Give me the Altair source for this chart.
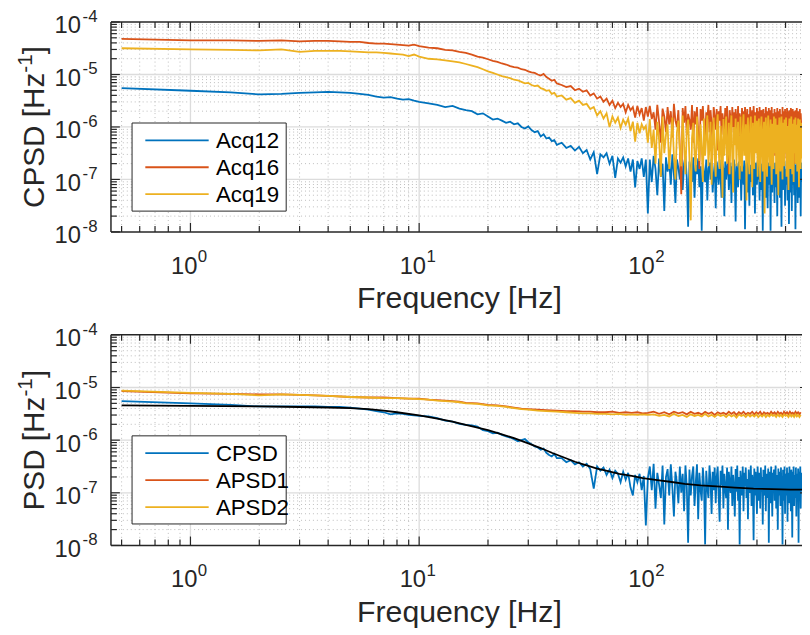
import altair as alt
import pandas as pd

# ---------------- data (log10 of spectral density) ----------------
F_LOW = [0.5, 1, 1.5, 2, 2.5, 3, 3.5, 4, 4.5, 5, 5.5, 6, 6.5, 7, 7.5, 8, 8.5, 9, 9.5, 10]
F_MID = list(range(11, 41))
F_MID2 = list(range(42, 101, 2))
F_HIGH = list(range(102, 471, 2))
FREQ = F_LOW + F_MID + F_MID2 + F_HIGH

ACQ12_LM = [
    -5.26, -5.31, -5.34, -5.38, -5.37, -5.35, -5.34, -5.33, -5.34, -5.35,
    -5.37, -5.39, -5.42, -5.44, -5.43, -5.46, -5.48, -5.47, -5.50, -5.52,
    -5.55, -5.58, -5.62, -5.60, -5.65, -5.68, -5.70, -5.76, -5.74, -5.80,
    -5.86, -5.84, -5.88, -5.92, -5.90, -5.95, -5.93, -6.00, -6.03, -5.99,
    -6.06, -6.10, -6.08, -6.18, -6.14, -6.22, -6.20, -6.27, -6.25, -6.34,
    -6.30, -6.40, -6.36, -6.45, -6.38, -6.50, -6.44, -6.62, -6.48, -6.90,
    -6.52, -6.58, -6.50, -6.70, -6.55, -6.97, -6.60, -6.68, -6.58, -6.75,
    -6.60, -6.85, -6.62, -7.15, -6.65, -6.80, -6.60, -6.95, -6.62, -7.65,
]
ACQ12_HI = [
    -6.62, -7.05, -6.55, -6.80, -7.30, -6.60, -6.95, -6.70, -7.60, -6.58,
    -6.85, -6.65, -7.10, -6.52, -6.90, -7.45, -6.62, -6.78, -7.00, -6.60,
    -7.20, -6.70, -6.55, -6.98, -7.90, -6.66, -6.82, -7.05, -6.58, -7.35,
    -6.72, -6.90, -6.60, -7.15, -6.75, -7.98, -6.64, -6.88, -7.05, -6.62,
    -7.40, -6.80, -6.68, -7.00, -6.60, -7.25, -6.92, -6.70, -7.55, -6.66,
    -6.85, -7.10, -6.62, -6.95, -7.35, -6.70, -6.80, -7.70, -6.66, -7.00,
    -6.78, -6.64, -7.20, -6.90, -6.68, -7.45, -6.75, -7.05, -6.62, -6.98,
    -7.80, -6.70, -6.86, -7.15, -6.66, -7.00, -6.74, -7.40, -6.68, -6.90,
    -7.10, -6.64, -7.95, -6.80, -6.70, -7.25, -6.66, -6.95, -7.50, -6.72,
    -6.85, -7.05, -6.62, -7.30, -6.78, -6.70, -7.65, -6.68, -6.92, -7.10,
    -6.66, -7.00, -6.75, -7.40, -6.64, -6.88, -7.20, -6.70, -7.98, -6.76,
    -6.90, -7.05, -6.66, -7.35, -6.72, -6.95, -7.55, -6.68, -6.84, -7.10,
    -6.70, -7.98, -6.74, -6.90, -7.25, -6.66, -7.00, -6.80, -7.45, -6.68,
    -6.94, -7.15, -6.72, -7.70, -6.66, -6.86, -7.05, -6.78, -7.35, -6.70,
    -6.98, -7.90, -6.68, -6.90, -7.20, -6.74, -7.00, -6.66, -7.50, -6.80,
    -6.92, -7.10, -6.70, -7.40, -6.76, -6.88, -7.85, -6.68, -7.00, -7.25,
    -6.72, -6.95, -7.60, -6.66, -6.84, -7.10, -6.74, -7.30, -6.68, -6.98,
    -7.95, -6.72, -6.90, -7.15, -6.66, -7.45, -6.80, -7.00, -6.70, -7.35,
    -6.76, -6.92, -7.70, -6.68, -7.05,
]

ACQ16_LM = [
    -4.32, -4.35, -4.35, -4.36, -4.35, -4.37, -4.36, -4.36, -4.37, -4.38,
    -4.38, -4.40, -4.41, -4.41, -4.42, -4.43, -4.44, -4.45, -4.43, -4.46,
    -4.49, -4.50, -4.53, -4.54, -4.57, -4.59, -4.62, -4.66, -4.68, -4.71,
    -4.74, -4.76, -4.79, -4.81, -4.84, -4.86, -4.87, -4.90, -4.91, -4.94,
    -4.96, -4.97, -5.00, -5.02, -4.99, -5.05, -5.08, -5.12, -5.10, -5.17,
    -5.20, -5.24, -5.22, -5.30, -5.27, -5.33, -5.30, -5.40, -5.36, -5.46,
    -5.42, -5.52, -5.46, -5.58, -5.50, -5.64, -5.54, -5.62, -5.56, -5.72,
    -5.58, -5.68, -5.62, -5.82, -5.60, -5.76, -5.64, -5.88, -5.62, -5.80,
]
ACQ16_HI = [
    -5.60, -5.85, -5.72, -6.05, -5.58, -5.90, -6.30, -5.65, -5.80, -6.10,
    -5.62, -5.95, -5.70, -6.20, -5.56, -5.88, -6.00, -5.68, -6.40, -7.28,
    -5.64, -5.92, -5.60, -6.15, -5.75, -5.86, -6.05, -5.58, -6.30, -5.70,
    -5.95, -5.62, -6.10, -6.80, -5.66, -5.88, -5.60, -6.00, -6.25, -5.72,
    -5.84, -5.58, -6.10, -5.68, -5.95, -6.35, -5.62, -5.80, -6.05, -5.66,
    -6.45, -5.70, -5.88, -5.60, -6.15, -5.74, -5.92, -6.05, -5.64, -6.25,
    -5.60, -5.95, -6.90, -5.68, -5.85, -6.10, -5.62, -6.00, -5.72, -6.30,
    -5.66, -5.90, -6.05, -5.60, -6.20, -5.74, -5.86, -6.40, -5.64, -5.98,
    -5.70, -6.12, -5.62, -5.88, -6.30, -5.66, -6.00, -5.76, -6.50, -5.62,
    -5.92, -6.05, -5.68, -6.22, -5.60, -5.86, -6.10, -5.72, -6.00, -5.64,
    -6.35, -5.70, -6.75, -5.62, -5.95, -6.10, -5.68, -5.88, -6.25, -5.66,
    -6.00, -5.74, -6.15, -5.62, -5.90, -6.40, -5.70, -6.05, -5.64, -6.20,
    -5.86, -5.68, -6.10, -5.62, -6.30, -5.74, -5.95, -6.05, -5.66, -6.55,
    -5.72, -5.90, -6.15, -5.64, -6.00, -5.70, -6.25, -5.88, -5.66, -6.40,
    -5.76, -5.96, -6.10, -5.62, -6.20, -5.70, -5.90, -6.60, -5.66, -6.05,
    -5.72, -6.30, -5.64, -5.92, -6.10, -5.70, -6.45, -5.68, -5.98, -6.20,
    -5.64, -6.05, -5.74, -6.35, -5.66, -5.90, -6.15, -5.70, -6.00, -6.70,
    -5.68, -5.94, -6.20, -5.64, -6.10, -5.72, -6.40, -5.70, -5.96, -6.05,
    -5.66, -6.25, -5.74, -5.92, -6.10,
]

ACQ19_LM = [
    -4.50, -4.52, -4.53, -4.54, -4.52, -4.57, -4.55, -4.55, -4.55, -4.56,
    -4.57, -4.58, -4.58, -4.59, -4.60, -4.61, -4.62, -4.65, -4.62, -4.66,
    -4.70, -4.71, -4.73, -4.75, -4.77, -4.80, -4.83, -4.86, -4.90, -4.94,
    -4.97, -5.00, -5.03, -5.05, -5.07, -5.10, -5.11, -5.14, -5.17, -5.16,
    -5.20, -5.22, -5.21, -5.26, -5.28, -5.31, -5.30, -5.37, -5.35, -5.42,
    -5.40, -5.48, -5.45, -5.54, -5.50, -5.58, -5.56, -5.66, -5.62, -5.78,
    -5.70, -5.84, -5.74, -6.00, -5.80, -5.92, -5.82, -6.02, -5.86, -5.96,
    -5.84, -6.08, -5.90, -6.28, -5.92, -6.12, -5.95, -6.04, -5.98, -6.30,
]
ACQ19_HI = [
    -5.85, -6.40, -6.05, -6.70, -5.90, -6.25, -6.95, -5.80, -6.50, -6.15,
    -5.95, -6.80, -6.30, -5.82, -6.55, -7.00, -6.10, -5.88, -6.45, -6.75,
    -5.78, -6.35, -6.90, -6.05, -5.86, -6.60, -7.78, -6.20, -5.92, -6.50,
    -6.85, -5.80, -6.30, -6.65, -5.95, -6.40, -7.05, -5.84, -6.55, -6.20,
    -5.78, -6.75, -6.35, -5.90, -7.10, -6.25, -5.82, -6.60, -6.95, -6.05,
    -5.76, -6.45, -6.80, -5.98, -6.30, -7.35, -5.85, -6.55, -6.15, -5.80,
    -6.70, -6.40, -5.92, -6.90, -6.10, -5.78, -6.60, -7.25, -6.00, -6.35,
    -5.84, -6.75, -6.20, -5.90, -6.50, -7.00, -5.80, -6.40, -6.85, -6.05,
    -5.76, -6.55, -6.30, -5.95, -7.40, -6.15, -5.82, -6.65, -6.90, -6.00,
    -5.80, -6.45, -7.15, -5.92, -6.35, -6.80, -5.78, -6.50, -6.20, -5.88,
    -6.95, -6.30, -5.84, -6.60, -7.05, -6.00, -5.80, -6.45, -6.85, -6.10,
    -5.90, -7.65, -6.35, -5.82, -6.55, -6.95, -6.05, -5.78, -6.40, -6.75,
    -6.15, -5.86, -6.60, -7.10, -5.94, -6.30, -6.80, -5.80, -6.50, -6.20,
    -5.84, -6.90, -6.40, -5.96, -6.65, -7.30, -6.05, -5.82, -6.45, -6.85,
    -6.10, -5.80, -6.55, -7.00, -5.92, -6.35, -6.75, -5.86, -6.50, -6.20,
    -5.82, -6.95, -6.40, -5.98, -6.60, -7.20, -6.00, -5.84, -6.45, -6.80,
    -6.15, -5.80, -6.55, -6.90, -5.94, -6.35, -7.05, -5.86, -6.50, -6.25,
    -5.82, -6.70, -6.40, -5.96, -6.85, -6.10, -5.84, -6.55, -7.15, -6.00,
    -5.86, -6.45, -6.80, -5.92, -6.60,
]

CPSD_LM = [
    -5.26, -5.30, -5.33, -5.36, -5.36, -5.36, -5.36, -5.37, -5.37, -5.38,
    -5.40, -5.42, -5.45, -5.47, -5.51, -5.49, -5.50, -5.52, -5.53, -5.54,
    -5.55, -5.58, -5.63, -5.65, -5.69, -5.71, -5.72, -5.74, -5.81, -5.83,
    -5.87, -5.86, -5.90, -5.93, -5.95, -5.98, -6.02, -6.00, -5.98, -6.04,
    -6.08, -6.12, -6.14, -6.18, -6.16, -6.24, -6.28, -6.31, -6.26, -6.34,
    -6.34, -6.42, -6.38, -6.46, -6.42, -6.50, -6.45, -6.55, -6.92, -6.50,
    -6.58, -6.52, -6.66, -6.56, -6.72, -6.58, -6.64, -6.80, -6.60, -6.75,
    -6.62, -6.90, -7.05, -6.66, -6.80, -6.64, -6.95, -6.68, -7.62, -6.72,
]
CPSD_HI = [
    -6.50, -6.95, -6.45, -7.30, -6.62, -6.85, -7.10, -6.48, -7.60, -6.70,
    -6.55, -7.05, -6.46, -6.90, -7.45, -6.60, -6.80, -7.20, -6.50, -7.00,
    -6.64, -7.35, -6.48, -6.88, -7.95, -6.56, -7.05, -6.68, -6.50, -7.25,
    -6.80, -6.46, -7.50, -6.62, -6.95, -7.15, -6.52, -6.85, -7.98, -6.58,
    -6.90, -7.10, -6.48, -6.78, -7.40, -6.60, -6.95, -6.52, -7.20, -6.70,
    -6.50, -7.05, -7.55, -6.58, -6.86, -6.48, -7.30, -6.64, -6.92, -7.10,
    -6.52, -7.70, -6.60, -6.84, -7.00, -6.50, -7.25, -6.66, -6.90, -7.45,
    -6.55, -6.98, -6.48, -7.15, -6.70, -7.98, -6.58, -6.86, -7.05, -6.50,
    -7.35, -6.62, -6.88, -6.52, -7.10, -6.74, -7.50, -6.56, -6.92, -7.00,
    -6.48, -7.25, -6.66, -6.85, -7.90, -6.54, -7.05, -6.60, -6.95, -7.40,
    -6.50, -6.88, -7.15, -6.62, -7.30, -6.52, -6.98, -6.70, -7.60, -6.56,
    -6.90, -7.05, -6.48, -7.35, -6.64, -6.86, -7.10, -6.54, -7.95, -6.60,
    -6.92, -7.20, -6.50, -6.84, -7.45, -6.62, -7.00, -6.56, -7.15, -6.70,
    -6.48, -7.30, -6.66, -6.90, -7.70, -6.54, -7.05, -6.60, -6.88, -7.25,
    -6.52, -7.00, -6.68, -7.98, -6.56, -6.94, -7.15, -6.50, -7.40, -6.64,
    -6.86, -7.05, -6.52, -7.55, -6.62, -6.90, -7.20, -6.50, -7.00, -6.70,
    -7.35, -6.56, -6.88, -7.85, -6.60, -7.05, -6.50, -7.25, -6.66, -6.92,
    -7.10, -6.52, -7.45, -6.64, -6.86, -7.00, -6.54, -7.95, -6.60, -7.15,
    -6.70, -6.50, -7.30, -6.62, -6.95,
]

ACQ12 = ACQ12_LM + ACQ12_HI
ACQ16 = ACQ16_LM + ACQ16_HI
ACQ19 = ACQ19_LM + ACQ19_HI
CPSD = CPSD_LM + CPSD_HI

FA_LOW = [0.5, 1, 1.5, 2, 2.5, 3, 3.5, 4, 5, 6, 7, 8, 9, 10, 11, 12, 13, 14, 15, 16,
          18, 20, 22, 24, 26, 28, 30, 33, 36, 40, 44, 48, 52, 56, 60, 65, 70, 75, 80,
          85, 90, 95, 100]
FA_HIGH = list(range(106, 467, 6))
FREQ_A = FA_LOW + FA_HIGH

APSD1 = [
    -5.07, -5.11, -5.12, -5.13, -5.13, -5.14, -5.15, -5.16, -5.18, -5.19,
    -5.19, -5.20, -5.21, -5.21, -5.23, -5.24, -5.25, -5.26, -5.27, -5.29,
    -5.30, -5.33, -5.34, -5.36, -5.38, -5.40, -5.41, -5.42, -5.43, -5.44,
    -5.45, -5.45, -5.46, -5.46, -5.47, -5.47, -5.46, -5.48, -5.47, -5.48,
    -5.47, -5.49, -5.48,
    -5.46, -5.50, -5.47, -5.51, -5.46, -5.49, -5.47, -5.51, -5.46, -5.50,
    -5.48, -5.51, -5.46, -5.50, -5.47, -5.52, -5.47, -5.50, -5.48, -5.51,
    -5.46, -5.50, -5.47, -5.52, -5.47, -5.50, -5.46, -5.51, -5.48, -5.50,
    -5.46, -5.51, -5.47, -5.50, -5.46, -5.52, -5.47, -5.50, -5.48, -5.51,
    -5.46, -5.50, -5.47, -5.51, -5.46, -5.50, -5.48, -5.52, -5.46, -5.50,
    -5.47, -5.51, -5.46, -5.50, -5.48, -5.51, -5.46, -5.50, -5.47, -5.51,
    -5.47,
]

APSD2 = [
    -5.06, -5.10, -5.12, -5.15, -5.13, -5.14, -5.15, -5.16, -5.18, -5.19,
    -5.20, -5.20, -5.21, -5.22, -5.23, -5.25, -5.26, -5.27, -5.28, -5.30,
    -5.31, -5.34, -5.35, -5.37, -5.39, -5.41, -5.42, -5.44, -5.45, -5.46,
    -5.47, -5.48, -5.49, -5.49, -5.50, -5.50, -5.51, -5.50, -5.52, -5.51,
    -5.52, -5.51, -5.52,
    -5.51, -5.54, -5.52, -5.55, -5.50, -5.54, -5.52, -5.56, -5.51, -5.54,
    -5.52, -5.55, -5.50, -5.55, -5.52, -5.56, -5.51, -5.54, -5.52, -5.56,
    -5.51, -5.55, -5.52, -5.57, -5.51, -5.54, -5.52, -5.56, -5.51, -5.55,
    -5.52, -5.55, -5.51, -5.56, -5.52, -5.55, -5.51, -5.56, -5.52, -5.55,
    -5.51, -5.54, -5.52, -5.56, -5.51, -5.55, -5.52, -5.56, -5.51, -5.54,
    -5.52, -5.56, -5.51, -5.55, -5.52, -5.56, -5.51, -5.55, -5.52, -5.56,
    -5.52,
]

FREQ_FIT = [0.5, 1, 2, 3, 4, 5, 6, 7, 8, 10, 12, 14, 16, 18, 20, 23, 26, 30, 34, 38,
            43, 48, 54, 60, 67, 75, 85, 95, 110, 125, 145, 170, 200, 240, 290, 350,
            420, 472]
FIT = [-5.34, -5.35, -5.36, -5.37, -5.38, -5.39, -5.41, -5.44, -5.47, -5.53,
       -5.59, -5.65, -5.71, -5.76, -5.81, -5.89, -5.96, -6.06, -6.15, -6.24,
       -6.33, -6.41, -6.48, -6.54, -6.59, -6.64, -6.68, -6.72, -6.76, -6.79,
       -6.83, -6.86, -6.88, -6.90, -6.92, -6.93, -6.94, -6.94]

for name, fr, vals in [("ACQ12", FREQ, ACQ12), ("ACQ16", FREQ, ACQ16), ("ACQ19", FREQ, ACQ19),
                       ("CPSD", FREQ, CPSD), ("APSD1", FREQ_A, APSD1), ("APSD2", FREQ_A, APSD2),
                       ("FIT", FREQ_FIT, FIT)]:
    assert len(fr) == len(vals), (name, len(fr), len(vals))

X_MAJOR = [1, 10, 100]
X_MAJOR_EXP = ["0", "1", "2"]
X_MINOR = [0.5, 0.6, 0.7, 0.8, 0.9, 2, 3, 4, 5, 6, 7, 8, 9,
           20, 30, 40, 50, 60, 70, 80, 90, 200, 300, 400]
Y_MAJOR = [1e-8, 1e-7, 1e-6, 1e-5, 1e-4]
Y_MAJOR_EXP = ["-8", "-7", "-6", "-5", "-4"]
Y_MINOR = [m * 10.0 ** e for e in (-8, -7, -6, -5) for m in range(2, 10)]

TOP_NAMES = ["Acq12", "Acq16", "Acq19"]
BOT_NAMES = ["CPSD", "APSD1", "APSD2"]
COLORS = ["#0072BD", "#D95319", "#EDB120"]

# ---------------- layout (view pixels; page = view + 8) ----------------
XL, XR = 104, 802
X_DOMAIN = [0.4492, 472.1]
PANELS = [dict(top=11, bot=223), dict(top=327, bot=539.7)]
FONT = "Liberation Sans"
AX = "#262626"


def xs():
    return alt.Scale(type="log", domain=X_DOMAIN, range=[XL, XR], nice=False)


def ys(p):
    return alt.Scale(type="log", domain=[1e-8, 1e-4], range=[p["bot"], p["top"]], nice=False)


def series(freqs, logs):
    return pd.DataFrame({"f": freqs, "v": [10.0 ** v for v in logs]})


def line(df, p, color, width=1.8):
    return alt.Chart(df).mark_line(color=color, strokeWidth=width).encode(
        x=alt.X("f:Q", scale=xs(), axis=None),
        y=alt.Y("v:Q", scale=ys(p), axis=None),
    )


def vrules(values, p, y1, y2, **kw):
    return alt.Chart(pd.DataFrame({"v": values})).mark_rule(**kw).encode(
        x=alt.X("v:Q", scale=xs(), axis=None), y=alt.value(y1), y2=alt.value(y2))


def hrules(values, p, x1, x2, **kw):
    return alt.Chart(pd.DataFrame({"v": values})).mark_rule(**kw).encode(
        y=alt.Y("v:Q", scale=ys(p), axis=None), x=alt.value(x1), x2=alt.value(x2))


def text_at(s, x, y, size, **kw):
    return alt.Chart(pd.DataFrame({"t": [s]})).mark_text(
        font=FONT, fontSize=size, color=kw.pop("color", AX), **kw).encode(
        text="t:N", x=alt.value(x), y=alt.value(y))


def panel(p, lines, names, ylabel_main):
    L = []
    t, b = p["top"], p["bot"]
    # grid
    L.append(vrules(X_MINOR, p, t, b, color="#BDBDBD", strokeWidth=1, strokeDash=[1, 3]))
    L.append(hrules(Y_MINOR, p, XL, XR, color="#BDBDBD", strokeWidth=1, strokeDash=[1, 3]))
    L.append(vrules(X_MAJOR, p, t, b, color="#DCDCDC", strokeWidth=1.3))
    L.append(hrules(Y_MAJOR[1:-1], p, XL, XR, color="#DCDCDC", strokeWidth=1.3))
    # data
    L.extend(lines)
    # spines
    L.append(alt.Chart(pd.DataFrame({"a": [0]})).mark_rule(color=AX, strokeWidth=1.5).encode(
        x=alt.value(XL), y=alt.value(t), y2=alt.value(b)))
    L.append(alt.Chart(pd.DataFrame({"a": [0]})).mark_rule(color=AX, strokeWidth=1.5).encode(
        x=alt.value(XL), x2=alt.value(XR), y=alt.value(t)))
    L.append(alt.Chart(pd.DataFrame({"a": [0]})).mark_rule(color=AX, strokeWidth=1.5).encode(
        x=alt.value(XL), x2=alt.value(XR), y=alt.value(b)))
    # ticks (inward)
    L.append(vrules(X_MAJOR, p, b, b - 9, color=AX, strokeWidth=1.2))
    L.append(vrules(X_MINOR, p, b, b - 6, color=AX, strokeWidth=1.2))
    L.append(vrules(X_MAJOR, p, t, t + 9, color=AX, strokeWidth=1.2))
    L.append(vrules(X_MINOR, p, t, t + 6, color=AX, strokeWidth=1.2))
    L.append(hrules(Y_MAJOR, p, XL, XL + 9, color=AX, strokeWidth=1.2))
    L.append(hrules(Y_MINOR, p, XL, XL + 6, color=AX, strokeWidth=1.2))
    L.append(hrules(Y_MAJOR[1:-1], p, XR - 2, XR, color=AX, strokeWidth=1.2))
    # x tick labels
    xl = pd.DataFrame({"v": X_MAJOR, "e": X_MAJOR_EXP})
    L.append(alt.Chart(xl).mark_text(font=FONT, fontSize=24, color=AX, align="right",
                                     baseline="alphabetic", dx=7).encode(
        x=alt.X("v:Q", scale=xs(), axis=None), y=alt.value(b + 42.3), text=alt.value("10")))
    L.append(alt.Chart(xl).mark_text(font=FONT, fontSize=17, color=AX, align="left",
                                     baseline="alphabetic", dx=7.5).encode(
        x=alt.X("v:Q", scale=xs(), axis=None), y=alt.value(b + 30.7), text="e:N"))
    # y tick labels
    yl = pd.DataFrame({"v": Y_MAJOR, "e": Y_MAJOR_EXP})
    L.append(alt.Chart(yl).mark_text(font=FONT, fontSize=24, color=AX, align="right",
                                     baseline="alphabetic", dy=11.5).encode(
        y=alt.Y("v:Q", scale=ys(p), axis=None), x=alt.value(73.7), text=alt.value("10")))
    L.append(alt.Chart(yl).mark_text(font=FONT, fontSize=17, color=AX, align="left",
                                     baseline="alphabetic", dy=0).encode(
        y=alt.Y("v:Q", scale=ys(p), axis=None), x=alt.value(75.3), text="e:N"))
    # x title
    L.append(text_at("Frequency [Hz]", 456, b + 77.3, 30.5, align="center", baseline="alphabetic"))
    # y title (rotated, with superscript)
    F = 30
    main_w = {"CPSD [Hz": 4.556, "PSD [Hz": 3.834}[ylabel_main] * F
    sup_w = 0.889 * 21
    total = main_w + sup_w + 0.278 * F
    cy = (t + b) / 2
    y0 = cy + total / 2
    bx = 36
    L.append(text_at(ylabel_main, bx, y0, F, align="left", baseline="alphabetic", angle=270))
    L.append(text_at("-1", bx - 12, y0 - main_w, 21, align="left", baseline="alphabetic", angle=270))
    L.append(text_at("]", bx, y0 - main_w - sup_w, F, align="left", baseline="alphabetic", angle=270))
    # legend
    ly0 = t + 102
    L.append(alt.Chart(pd.DataFrame({"a": [0]})).mark_rect(
        fill="white", stroke=AX, strokeWidth=1).encode(
        x=alt.value(125.3), x2=alt.value(281), y=alt.value(ly0), y2=alt.value(ly0 + 89)))
    for i, (nm, c) in enumerate(zip(names, COLORS)):
        ry = ly0 + 17.5 + 27.2 * i
        L.append(alt.Chart(pd.DataFrame({"a": [0]})).mark_rule(color=c, strokeWidth=1.8).encode(
            x=alt.value(138.7), x2=alt.value(202.7), y=alt.value(ry)))
        L.append(text_at(nm, 210, ry + 8, 22.5, align="left", baseline="alphabetic", color="#000000"))
    return L


top_lines = [
    line(series(FREQ, ACQ12), PANELS[0], COLORS[0]),
    line(series(FREQ, ACQ16), PANELS[0], COLORS[1]),
    line(series(FREQ, ACQ19), PANELS[0], COLORS[2]),
]
bot_lines = [
    line(series(FREQ, CPSD), PANELS[1], COLORS[0]),
    line(series(FREQ_A, APSD1), PANELS[1], COLORS[1]),
    line(series(FREQ_A, APSD2), PANELS[1], COLORS[2]),
    line(series(FREQ_FIT, FIT), PANELS[1], "#000000", width=1.8),
]

layers = panel(PANELS[0], top_lines, TOP_NAMES, "CPSD [Hz") + \
    panel(PANELS[1], bot_lines, BOT_NAMES, "PSD [Hz")

chart = alt.layer(*layers).resolve_scale(x="independent", y="independent").properties(
    width=802, height=627, padding=0, background="white",
    autosize=alt.AutoSizeParams(type="none"),
).configure_view(stroke=None)

chart.save("out.html", embed_options={"renderer": "svg", "actions": False})
